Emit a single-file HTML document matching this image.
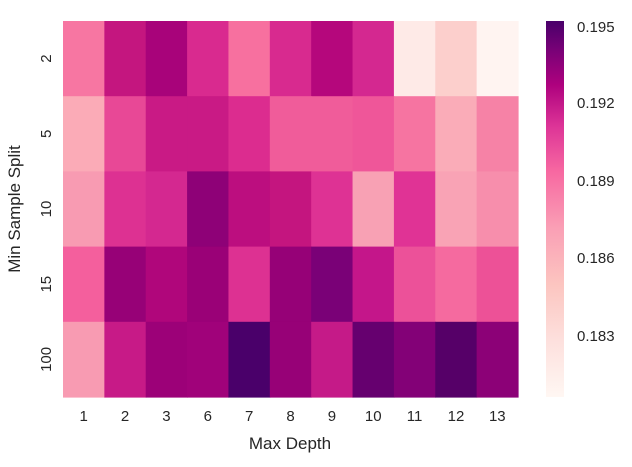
<!DOCTYPE html>
<html><head><style>
body{margin:0;background:#fff;width:632px;height:462px;overflow:hidden;font-family:"Liberation Sans",Arial,sans-serif;color:#262626}
</style></head><body>
<svg width="632" height="462" xmlns="http://www.w3.org/2000/svg" font-family="Liberation Sans, Arial, sans-serif" fill="#262626">
<defs>
<linearGradient id="cb" x1="0" y1="1" x2="0" y2="0">
<stop offset="0" stop-color="#fff7f3"/>
<stop offset="0.15" stop-color="#fde0dd"/>
<stop offset="0.3" stop-color="#fcc5c0"/>
<stop offset="0.45" stop-color="#fa9fb5"/>
<stop offset="0.6" stop-color="#f768a1"/>
<stop offset="0.72" stop-color="#dd3497"/>
<stop offset="0.83" stop-color="#ae017e"/>
<stop offset="0.92" stop-color="#7a0177"/>
<stop offset="1" stop-color="#49006a"/>
</linearGradient>
</defs>
<g id="grid"></g>
<rect x="546" y="21" width="18" height="376" fill="url(#cb)"/>
<g font-size="15">
<text x="577" y="32">0.195</text>
<text x="577" y="108">0.192</text>
<text x="577" y="186">0.189</text>
<text x="577" y="263">0.186</text>
<text x="577" y="341">0.183</text>
</g>
<g font-size="15" text-anchor="middle" id="xt"></g>
<g font-size="15" text-anchor="middle" id="yt"></g>
<text x="290" y="449" font-size="17" text-anchor="middle">Max Depth</text>
<text transform="translate(20,209) rotate(-90)" font-size="17" text-anchor="middle">Min Sample Split</text>
</svg>
<script>
var C=[
["#f776a2","#c4167f","#a8037a","#d92a8f","#f7709f","#d82a8f","#b5077c","#d42890","#feeae7","#fccfcc","#fff4f1"],
["#fbabb7","#e84896","#c91a85","#c91a85","#dc2c8f","#f05c9a","#f05c9a","#ef5699","#f674a1","#faacb8","#f682a6"],
["#f89bb2","#dd3192","#d42890","#8e0177","#bc0e7f","#c4157f","#de3294","#f8a1b4","#e03395","#f9a3b5","#f78eac"],
["#f45f9d","#970177","#b0067b","#9a0177","#dd3192","#960177","#7a0177","#c4168a","#ec5199","#f56a9f","#ed5197"],
["#f89bb2","#c71a87","#9c0178","#a0027a","#4a006a","#970177","#c51a88","#66006f","#830177","#560068","#8c0177"]];
var ns="http://www.w3.org/2000/svg",g=document.getElementById("grid"),x0=63,y0=21,w=455/11,h=376/5;
for(var r=0;r<5;r++)for(var c=0;c<11;c++){var e=document.createElementNS(ns,"rect");e.setAttribute("x",x0+c*w);e.setAttribute("y",y0+r*h);e.setAttribute("width",w+0.6);e.setAttribute("height",h+0.6);e.setAttribute("fill",C[r][c]);g.appendChild(e);}
var xl=["1","2","3","6","7","8","9","10","11","12","13"],xt=document.getElementById("xt");
xl.forEach(function(s,i){var t=document.createElementNS(ns,"text");t.setAttribute("x",x0+(i+0.5)*w);t.setAttribute("y",421);t.textContent=s;xt.appendChild(t);});
var yl=["2","5","10","15","100"],yt=document.getElementById("yt");
yl.forEach(function(s,i){var t=document.createElementNS(ns,"text");var cy=y0+(i+0.5)*h;t.setAttribute("transform","translate(51,"+cy+") rotate(-90)");t.textContent=s;yt.appendChild(t);});
</script>
</body></html>
